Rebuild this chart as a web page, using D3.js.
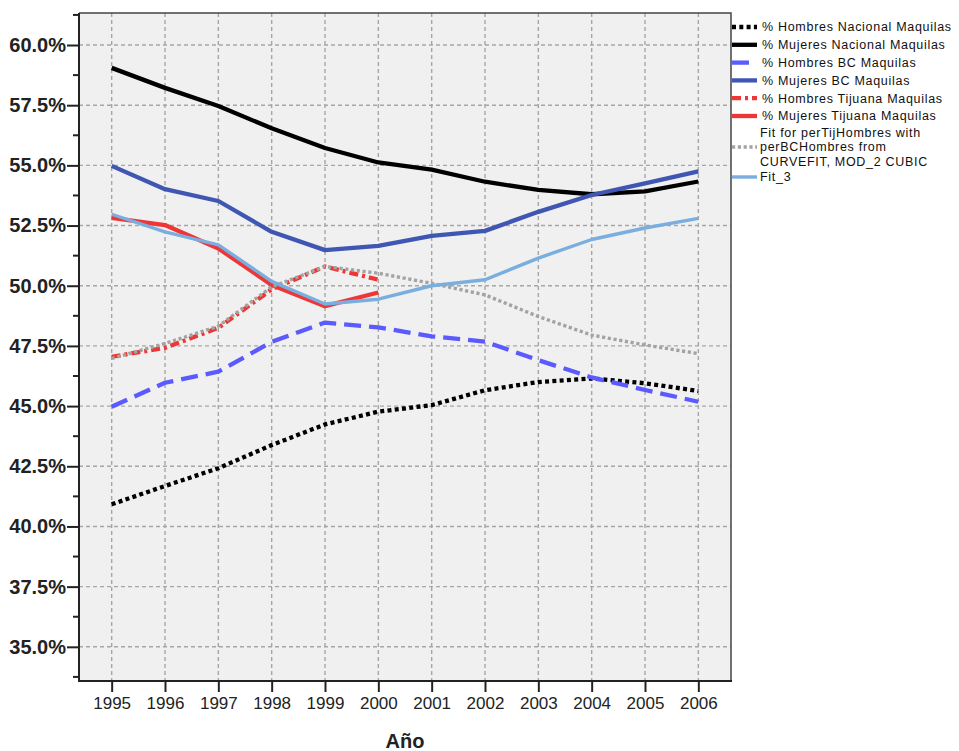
<!DOCTYPE html>
<html>
<head>
<meta charset="utf-8">
<script src="https://cdn.jsdelivr.net/npm/d3@7"></script>
<style>
  html, body { margin: 0; padding: 0; background: #ffffff; }
  svg { display: block; font-family: "Liberation Sans", Arial, sans-serif; }
</style>
</head>
<body>
<svg id="chart" width="959" height="751"></svg>
<script>
// Años (categorías del eje X)
const years = ["1995","1996","1997","1998","1999","2000","2001","2002","2003","2004","2005","2006"];

// Marcas del eje Y (porcentajes)
const yTicks = [35, 37.5, 40, 42.5, 45, 47.5, 50, 52.5, 55, 57.5, 60];

// Series (porcentaje); null = sin dato
const hombresNacional = [40.92, 41.68, 42.42, 43.38, 44.24, 44.77, 45.04, 45.66, 46.00, 46.15, 45.95, 45.63];
const mujeresNacional = [59.05, 58.22, 57.47, 56.54, 55.72, 55.12, 54.82, 54.32, 53.98, 53.80, 53.92, 54.33];
const hombresBC       = [44.97, 45.97, 46.43, 47.67, 48.47, 48.27, 47.90, 47.68, 46.91, 46.19, 45.67, 45.18];
const mujeresBC       = [54.98, 54.01, 53.52, 52.24, 51.48, 51.66, 52.07, 52.28, 53.07, 53.77, 54.25, 54.75];
const hombresTijuana  = [47.05, 47.42, 48.25, 49.85, 50.80, 50.25, null, null, null, null, null, null];
const mujeresTijuana  = [52.82, 52.52, 51.55, 50.03, 49.15, 49.72, null, null, null, null, null, null];
const fitHombres      = [46.98, 47.60, 48.32, 49.95, 50.80, 50.52, 50.10, 49.62, 48.72, 47.95, 47.54, 47.18];
const fit3            = [52.97, 52.24, 51.70, 50.18, 49.24, 49.44, 50.00, 50.25, 51.15, 51.92, 52.40, 52.80];

const seriesNames = [
  "% Hombres Nacional Maquilas",
  "% Mujeres Nacional Maquilas",
  "% Hombres BC Maquilas",
  "% Mujeres BC Maquilas",
  "% Hombres Tijuana Maquilas",
  "% Mujeres Tijuana Maquilas",
  "Fit for perTijHombres with|perBCHombres from|CURVEFIT, MOD_2 CUBIC",
  "Fit_3"
];

const series = [
  { name: seriesNames[0], values: hombresNacional, color: "#000000", width: 4.3, dash: "4,3.3" },
  { name: seriesNames[1], values: mujeresNacional, color: "#000000", width: 4.3, dash: null },
  { name: seriesNames[2], values: hombresBC,       color: "#5a5aff", width: 4.3, dash: "17,8" },
  { name: seriesNames[3], values: mujeresBC,       color: "#3f56b3", width: 4.3, dash: null },
  { name: seriesNames[4], values: hombresTijuana,  color: "#ee3636", width: 4.3, dash: "9,4,3,4" },
  { name: seriesNames[5], values: mujeresTijuana,  color: "#ee3636", width: 4.3, dash: null },
  { name: seriesNames[6], values: fitHombres,      color: "#a3a3a3", width: 3.4, dash: "3.2,2.6" },
  { name: seriesNames[7], values: fit3,            color: "#7aaede", width: 3.4, dash: null }
];

const svg = d3.select("#chart");

// Área de trazado
const plot = { left: 79, right: 731, top: 13, bottom: 681 };

const x = d3.scalePoint()
  .domain(years)
  .range([plot.left, plot.right])
  .padding(0.6125);

const y = d3.scaleLinear()
  .domain([33.58, 61.33])
  .range([plot.bottom, plot.top]);

// Fondo
svg.append("rect")
  .attr("x", plot.left).attr("y", plot.top)
  .attr("width", plot.right - plot.left)
  .attr("height", plot.bottom - plot.top)
  .attr("fill", "#f0f0f0");

// Rejilla
const grid = svg.append("g").attr("stroke", "#a6a6a6").attr("stroke-width", 1.4).attr("stroke-dasharray", "4,3");
grid.selectAll("line.h").data(yTicks).join("line")
  .attr("x1", plot.left).attr("x2", plot.right)
  .attr("y1", d => y(d)).attr("y2", d => y(d));
grid.selectAll("line.v").data(years).join("line")
  .attr("y1", plot.top).attr("y2", plot.bottom)
  .attr("x1", d => x(d)).attr("x2", d => x(d));

// Líneas de las series
const line = d3.line()
  .defined(d => d.v !== null)
  .x(d => x(d.year))
  .y(d => y(d.v));

const lines = svg.append("g").attr("fill", "none");
series.forEach(s => {
  lines.append("path")
    .datum(s.values.map((v, i) => ({ year: years[i], v })))
    .attr("d", line)
    .attr("stroke", s.color)
    .attr("stroke-width", s.width)
    .attr("stroke-dasharray", s.dash)
    .attr("stroke-linejoin", "round");
});

// Marco superior y derecho
svg.append("path")
  .attr("d", `M${plot.left},${plot.top}H${plot.right}V${plot.bottom}`)
  .attr("fill", "none").attr("stroke", "#444").attr("stroke-width", 1.5);

// Eje Y
const yAxis = d3.axisLeft(y)
  .tickValues(yTicks)
  .tickSize(12)
  .tickPadding(1)
  .tickFormat(d => d3.format(".1f")(d) + "%");
const gy = svg.append("g").attr("transform", `translate(${plot.left},0)`).call(yAxis);
gy.select(".domain").remove();
gy.selectAll(".tick line").attr("stroke", "#222").attr("stroke-width", 2);
gy.selectAll(".tick text")
  .attr("font-size", 20).attr("font-weight", "bold").attr("fill", "#222")
  .attr("font-family", "'Liberation Sans', Arial, sans-serif");

// Marcas menores del eje Y
const minorTicks = d3.range(33.75, 61.3, 2.5);
svg.append("g").selectAll("line").data(minorTicks).join("line")
  .attr("x1", plot.left - 6).attr("x2", plot.left)
  .attr("y1", d => y(d)).attr("y2", d => y(d))
  .attr("stroke", "#222").attr("stroke-width", 2);

svg.append("line")
  .attr("x1", plot.left).attr("x2", plot.left)
  .attr("y1", plot.top).attr("y2", plot.bottom + 1)
  .attr("stroke", "#222").attr("stroke-width", 2);

// Eje X
const xAxis = d3.axisBottom(x).tickSize(11).tickPadding(5);
const gx = svg.append("g").attr("transform", `translate(0,${plot.bottom})`).call(xAxis);
gx.select(".domain").remove();
gx.selectAll(".tick line").attr("stroke", "#222").attr("stroke-width", 2);
gx.selectAll(".tick text")
  .attr("font-size", 17).attr("fill", "#222")
  .attr("font-family", "'Liberation Sans', Arial, sans-serif");

svg.append("line")
  .attr("x1", plot.left - 1).attr("x2", plot.right + 1)
  .attr("y1", plot.bottom).attr("y2", plot.bottom)
  .attr("stroke", "#222").attr("stroke-width", 2.2);

// Título del eje X
svg.append("text")
  .attr("x", (plot.left + plot.right) / 2)
  .attr("y", 748)
  .attr("text-anchor", "middle")
  .attr("font-size", 20).attr("font-weight", "bold").attr("fill", "#222")
  .text("Año");

// Leyenda
const legendRows = [27, 44.8, 62.6, 80.4, 98.2, 116, 147, 177];
const legend = svg.append("g");
series.forEach((s, i) => {
  const cy = legendRows[i];
  legend.append("line")
    .attr("x1", plot.right + 1).attr("x2", 757)
    .attr("y1", cy).attr("y2", cy)
    .attr("stroke", s.color)
    .attr("stroke-width", s.width)
    .attr("stroke-dasharray", s.dash);
  const parts = s.name.split("|");
  const tx = parts.length > 1 || s.name === "Fit_3" ? 760 : 762;
  parts.forEach((p, j) => {
    legend.append("text")
      .attr("x", tx)
      .attr("y", cy + (j - (parts.length - 1) / 2) * 14.5)
      .attr("dy", "0.35em")
      .attr("font-size", 12.5)
      .attr("letter-spacing", 0.7)
      .attr("fill", "#111")
      .text(p);
  });
});
</script>
</body>
</html>
